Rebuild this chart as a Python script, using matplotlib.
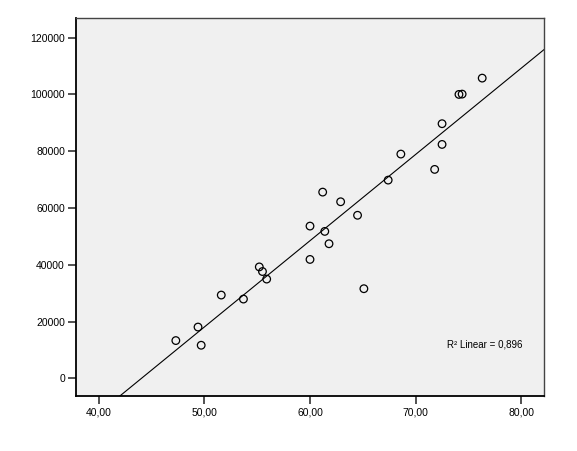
import numpy as np
import matplotlib.pyplot as plt

plt.rcParams['font.family'] = ['Liberation Sans', 'DejaVu Sans']

# scatter values
x_vals = [47.3, 49.4, 49.7, 51.6, 53.7, 55.2, 55.5, 55.9, 60.0, 60.0, 61.2, 61.4,
          61.8, 62.9, 64.5, 65.1, 67.4, 68.6, 71.8, 72.5, 72.5, 74.1, 74.4, 76.3]
y_vals = [13300, 18060, 11650, 29330, 27920, 39250, 37620, 34960, 53630, 41880,
          65600, 51760, 47410, 62200, 57440, 31570, 69830, 79000, 73600, 82400,
          89700, 100020, 100130, 105760]

x_ticks = [40, 50, 60, 70, 80]
y_ticks = [0, 20000, 40000, 60000, 80000, 100000, 120000]
r2_label = "R² Linear = 0,896"

fig = plt.figure(figsize=(5.77, 4.51), dpi=100)
ax = fig.add_axes([76/577, 1 - 396/451, (544-76)/577, (396-18)/451])
ax.set_facecolor('#f0f0f0')

xlim = (37.85, 82.15)
ylim = (-6230, 126940)

# linear fit
slope, intercept = np.polyfit(x_vals, y_vals, 1)
xl = np.array(xlim)
ax.plot(xl, slope*xl + intercept, color='black', lw=0.8, zorder=2)

ax.scatter(x_vals, y_vals, s=30, facecolors='none', edgecolors='black',
           linewidths=0.9, zorder=3)

ax.set_xlim(*xlim)
ax.set_ylim(*ylim)
ax.set_xticks(x_ticks)
ax.set_xticklabels(["%d,00" % v for v in x_ticks])
ax.set_yticks(y_ticks)
ax.set_yticklabels([str(v) for v in y_ticks])
ax.tick_params(direction='out', length=6, width=1.2, labelsize=7.5, pad=2,
               color='#333333')

for s in ['left', 'bottom']:
    ax.spines[s].set_linewidth(1.3)
    ax.spines[s].set_color('black')
for s in ['top', 'right']:
    ax.spines[s].set_linewidth(1.0)
    ax.spines[s].set_color('#444444')

ax.text(0.792, 0.135, r2_label, transform=ax.transAxes, fontsize=7,
        ha='left', va='center')

fig.savefig('out.png', dpi=100)
